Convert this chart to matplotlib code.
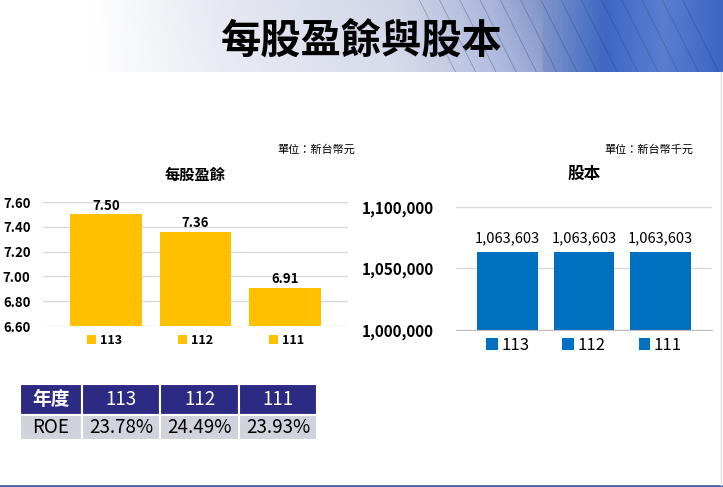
import numpy as np
import matplotlib.pyplot as plt
from matplotlib.colors import LinearSegmentedColormap

plt.rcParams['font.family'] = ['Noto Sans CJK TC', 'DejaVu Sans']

# data
years = ['113', '112', '111']
eps = [7.50, 7.36, 6.91]
capital = [1063603, 1063603, 1063603]
roe = ['23.78%', '24.49%', '23.93%']

W, H = 723, 487
fig = plt.figure(figsize=(W / 100, H / 100), dpi=100)
fig.patch.set_facecolor('white')


def fx(px):
    return px / W


def fy(py):
    return 1 - py / H


# header banner (decorative gradient)
ban = fig.add_axes([0, fy(72), 1, 72 / H])
cmap = LinearSegmentedColormap.from_list('ban', [
    (0.0, '#ffffff'), (0.12, '#ffffff'), (0.30, '#e6e9f1'), (0.55, '#d0d5e7'),
    (0.68, '#aab5da'), (0.76, '#7a90c8'), (0.84, '#3d68c4'), (0.92, '#5a7fd0'),
    (1.0, '#3c66c2')])
grad = np.tile(np.linspace(0, 1, 400), (30, 1))
fade = np.linspace(0.0, 1.0, 30)[:, None] * (grad < 0.75)
img = cmap(grad)
img[..., :3] = img[..., :3] * (1 - 0.15 * fade[..., None]) + 0.15 * fade[..., None]
ban.imshow(img, aspect='auto', extent=[0, 1, 0, 1])
for k in range(14):
    x0 = 0.58 + k * 0.028
    ban.plot([x0, x0 + 0.05], [1, 0], color='#2a3560', lw=0.6, alpha=0.35)
ban.set_xlim(0, 1)
ban.set_ylim(0, 1)
ban.axis('off')

fig.text(fx(362), fy(41), '每股盈餘與股本', ha='center', va='center',
         fontsize=29, fontweight='bold', color='black')

# left chart: EPS
ax1 = fig.add_axes([fx(43), fy(326), fx(305), 124 / H])
for i, (y, v) in enumerate(zip(years, eps)):
    ax1.bar(i, v - 6.6, bottom=6.6, width=0.8, color='#FFC000', label=y, zorder=2)
    ax1.text(i, v + 0.015, f'{v:.2f}', ha='center', va='bottom',
             fontsize=9.5, fontweight='bold')
ax1.set_ylim(6.6, 7.6)
ax1.set_xlim(-0.7, 2.7)
ax1.set_yticks(np.arange(6.6, 7.61, 0.2))
ax1.set_yticklabels([f'{t:.2f}' for t in np.arange(6.6, 7.61, 0.2)],
                    fontsize=9.5, fontweight='bold')
ax1.set_xticks([])
ax1.tick_params(axis='y', length=0, pad=9)
ax1.grid(axis='y', color='#d9d9d9', lw=1, zorder=0)
for s in ax1.spines.values():
    s.set_visible(False)
ax1.legend(loc='upper center', bbox_to_anchor=(0.5, 0.03), ncol=3, frameon=False,
           handlelength=0.7, handleheight=0.7, handletextpad=0.3, columnspacing=4.5,
           prop={'size': 9, 'weight': 'bold'})
ax1.set_title('每股盈餘', fontsize=11, fontweight='bold', pad=16)
fig.text(fx(355), fy(150), '單位：新台幣元', ha='right', va='center', fontsize=8)

# right chart: capital
ax2 = fig.add_axes([fx(456), fy(330), fx(256), 123 / H])
for i, (y, v) in enumerate(zip(years, capital)):
    ax2.bar(i, v - 1e6, bottom=1e6, width=0.8, color='#0070C0', label=y, zorder=2)
    ax2.text(i, v + 5000, f'{v:,}', ha='center', va='bottom', fontsize=10.5,
             fontweight='medium')
ax2.set_ylim(1e6, 1.1e6)
ax2.set_xlim(-0.68, 2.68)
ticks2 = [1000000, 1050000, 1100000]
ax2.set_yticks(ticks2)
ax2.set_yticklabels([f'{t:,}' for t in ticks2], fontsize=11, fontweight='bold')
ax2.set_xticks([])
ax2.tick_params(axis='y', length=0, pad=16)
ax2.grid(axis='y', color='#d9d9d9', lw=1, zorder=0)
for s in ax2.spines.values():
    s.set_visible(False)
ax2.spines['bottom'].set_visible(True)
ax2.spines['bottom'].set_color('#bfbfbf')
ax2.legend(loc='upper center', bbox_to_anchor=(0.5, 0.065), ncol=3, frameon=False,
           handlelength=0.7, handleheight=0.7, handletextpad=0.2, columnspacing=2.0,
           prop={'size': 12})
ax2.set_title('股本', fontsize=12, fontweight='bold', pad=20)
fig.text(fx(693), fy(150), '單位：新台幣千元', ha='right', va='center', fontsize=8)

# ROE table
axt = fig.add_axes([fx(20), fy(440), fx(297), 56 / H])
axt.axis('off')
cells = [['年度'] + years, ['ROE'] + roe]
tab = axt.table(cellText=cells, bbox=[0, 0, 1, 1], cellLoc='center',
                colWidths=[62, 78, 79, 78])
tab.auto_set_font_size(False)
for (r, c), cell in tab.get_celld().items():
    cell.set_edgecolor('white')
    cell.set_linewidth(1.5)
    if r == 0:
        cell.set_facecolor('#2d2a84')
        cell.get_text().set_color('white')
        cell.get_text().set_fontsize(13.5)
        cell.set_height(0.55)
        if c == 0:
            cell.get_text().set_fontweight('bold')
    else:
        cell.set_facecolor('#d2d2dc')
        cell.get_text().set_color('black')
        cell.get_text().set_fontsize(13.5)
        cell.set_height(0.45)

# page border lines
fig.add_artist(plt.Line2D([0, 1], [fy(485.5), fy(485.5)], color='#3f66a8', lw=2))
fig.add_artist(plt.Line2D([fx(721), fx(721)], [fy(72), fy(485)], color='#e2e2e2', lw=1))

fig.savefig('out.png', dpi=100)
